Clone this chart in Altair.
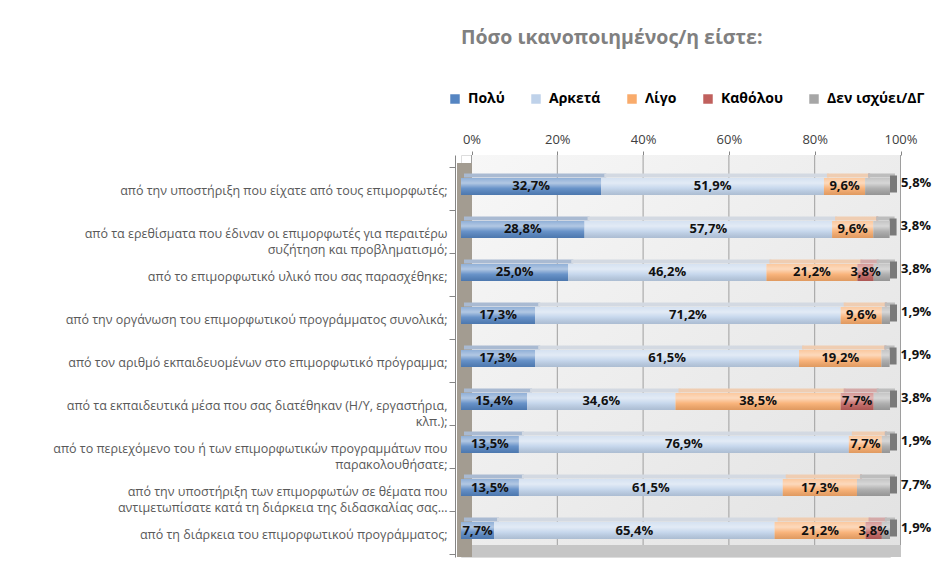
import altair as alt
import pandas as pd

# ---------------- data ----------------
categories = [
    "από την υποστήριξη που είχατε από τους επιμορφωτές;",
    "από τα ερεθίσματα που έδιναν οι επιμορφωτές για περαιτέρω|συζήτηση και προβληματισμό;",
    "από το επιμορφωτικό υλικό που σας παρασχέθηκε;",
    "από την οργάνωση του επιμορφωτικού προγράμματος συνολικά;",
    "από τον αριθμό εκπαιδευομένων στο επιμορφωτικό πρόγραμμα;",
    "από τα εκπαιδευτικά μέσα που σας διατέθηκαν (Η/Υ, εργαστήρια,|κλπ.);",
    "από το περιεχόμενο του ή των επιμορφωτικών προγραμμάτων που|παρακολουθήσατε;",
    "από την υποστήριξη των επιμορφωτών σε θέματα που|αντιμετωπίσατε κατά τη διάρκεια της διδασκαλίας σας...",
    "από τη διάρκεια του επιμορφωτικού προγράμματος;",
]
series = ["Πολύ", "Αρκετά", "Λίγο", "Καθόλου", "Δεν ισχύει/ΔΓ"]
poly = [32.7, 28.8, 25.0, 17.3, 17.3, 15.4, 13.5, 13.5, 7.7]
arketa = [51.9, 57.7, 46.2, 71.2, 61.5, 34.6, 76.9, 61.5, 65.4]
ligo = [9.6, 9.6, 21.2, 9.6, 19.2, 38.5, 7.7, 17.3, 21.2]
katholou = [0.0, 0.0, 3.8, 0.0, 0.0, 7.7, 0.0, 0.0, 3.8]
den = [5.8, 3.8, 3.8, 1.9, 1.9, 3.8, 1.9, 7.7, 1.9]
ticks = [0, 20, 40, 60, 80, 100]

title_text = "Πόσο ικανοποιημένος/η είστε:"

face_colors = ["#5585c2", "#bfd2ea", "#f9ab6b", "#c0605d", "#a6a6a6"]
top_colors = ["#a9bad2", "#d3d9e2", "#efcdb2", "#d4a9a8", "#bdbdbd"]

# ---------------- table ----------------
values = [poly, arketa, ligo, katholou, den]
rows = []
for i, cat in enumerate(categories):
    cum = 0.0
    for j, s in enumerate(series):
        v = values[j][i]
        rows.append({
            "cat": cat,
            "series": s,
            "order": j,
            "value": v,
            "start": cum,
            "end": cum + v,
            "mid": cum + v / 2,
            "label": f"{v:.1f}".replace(".", ",") + "%",
        })
        cum += v
df = pd.DataFrame(rows)
tick_df = pd.DataFrame({"t": ticks})
one = pd.DataFrame({"a": [0]})

FONT = "Open Sans"
BAR = 17
YOFF = -2

xscale = alt.Scale(domain=[0, 100], nice=False, zero=False)
yscale = alt.Scale(domain=categories, paddingInner=0, paddingOuter=0.1744, align=0.8)

xaxis = alt.Axis(
    orient="top", values=ticks, labelExpr="datum.value + '%'", title=None,
    domain=False, grid=False, tickSize=4, tickColor="#868686", tickOffset=10.5,
    labelPadding=5, labelFont=FONT, labelFontSize=13, labelColor="#404040",
    labelFlush=False, labelOverlap=False,
)
yaxis = alt.Axis(
    orient="left", title=None, labelExpr="split(datum.label, '|')",
    labelFont=FONT, labelFontSize=12.5, labelColor="#595959", labelLineHeight=16,
    labelLimit=420, tickBand="extent", tickSize=6, tickColor="#868686",
    domainColor="#868686", offset=6, labelPadding=2, labelOffset=2, labelOverlap=False,
)


def X(field):
    return alt.X(field, type="quantitative", scale=xscale, axis=xaxis)


def Y():
    return alt.Y("cat:N", scale=yscale, axis=yaxis)


# ---------------- decoration (3D walls) ----------------
back_wall = alt.Chart(one).mark_rect(
    color=alt.Gradient(
        gradient="linear",
        stops=[alt.GradientStop(offset=0, color="#f7f7f7"),
               alt.GradientStop(offset=1, color="#e2e2e2")],
        x1=0, x2=1, y1=0, y2=1,
    )
).encode(x=alt.value(11), x2=alt.value(440), y=alt.value(0), y2=alt.value(390))

grid = alt.Chart(tick_df).mark_rule(color="#9e9e9e", strokeWidth=1, xOffset=10.5).encode(
    x=X("t"),
    y=alt.value(0), y2=alt.value(390),
)

floor = alt.Chart(one).mark_rect(color="#c6c6c6").encode(
    x=alt.value(-4), x2=alt.value(440), y=alt.value(390), y2=alt.value(402)
)

left_wall = alt.Chart(one).mark_rect(color="#a39c91").encode(
    x=alt.value(-4), x2=alt.value(11), y=alt.value(8), y2=alt.value(402)
)

# ---------------- bars ----------------
base = alt.Chart(df)

top_face = base.mark_bar(size=4, yOffset=YOFF - BAR / 2 - 2.5, xOffset=3, x2Offset=5).encode(
    x=X("start"),
    x2="end:Q",
    y=Y(),
    color=alt.Color("series:N", scale=alt.Scale(domain=series, range=top_colors), legend=None),
)

side_face = base.transform_filter(alt.datum.series == series[-1]).mark_bar(
    size=BAR, yOffset=YOFF - 2.5, x2Offset=7, color="#7a7a7a"
).encode(
    x=X("end"),
    x2="end:Q",
    y=Y(),
)

front = base.mark_bar(size=BAR, yOffset=YOFF).encode(
    x=X("start"),
    x2="end:Q",
    y=Y(),
    color=alt.Color(
        "series:N",
        scale=alt.Scale(domain=series, range=face_colors),
        legend=alt.Legend(
            title=None, orient="none", direction="horizontal", legendX=-13, legendY=-63,
            symbolType="square", symbolSize=90, symbolStrokeWidth=0,
            labelFont=FONT, labelFontSize=14, labelFontWeight="bold", labelColor="#000000",
            labelOffset=6, columnPadding=24,
        ),
    ),
)

sheen = base.mark_bar(
    size=BAR, yOffset=YOFF,
    color=alt.Gradient(
        gradient="linear",
        stops=[alt.GradientStop(offset=0, color="rgba(255,255,255,0.35)"),
               alt.GradientStop(offset=0.3, color="rgba(255,255,255,0.55)"),
               alt.GradientStop(offset=0.6, color="rgba(255,255,255,0.12)"),
               alt.GradientStop(offset=1, color="rgba(0,0,0,0.10)")],
        x1=0, x2=0, y1=0, y2=1,
    ),
).encode(
    x=X("start"),
    x2="end:Q",
    y=Y(),
)

inside = base.transform_filter(
    (alt.datum.series != series[-1]) & (alt.datum.value > 0)
).mark_text(font=FONT, fontSize=13, fontWeight="bold", color="#111111", dy=YOFF).encode(
    x=X("mid"),
    y=Y(),
    text="label:N",
)

outside = base.transform_filter(alt.datum.series == series[-1]).mark_text(
    font=FONT, fontSize=13, fontWeight="bold", color="#111111", align="left", dx=11, dy=YOFF - 3
).encode(
    x=X("end"),
    y=Y(),
    text="label:N",
)

chart = alt.layer(
    back_wall, grid, floor, left_wall, top_face, side_face, front, sheen, inside, outside
).resolve_scale(color="independent").properties(
    width=429,
    height=402,
    autosize=alt.AutoSizeParams(type="none"),
    padding={"left": 453, "top": 147, "right": 50, "bottom": 5},
    title=alt.TitleParams(
        title_text, anchor="start", frame="group", font=FONT, fontSize=19.5, fontWeight="bold",
        color="#808080", offset=44,
    ),
).configure_view(stroke=None).configure(background="white")

chart.save("out.html", embed_options={"renderer": "svg", "actions": False})
